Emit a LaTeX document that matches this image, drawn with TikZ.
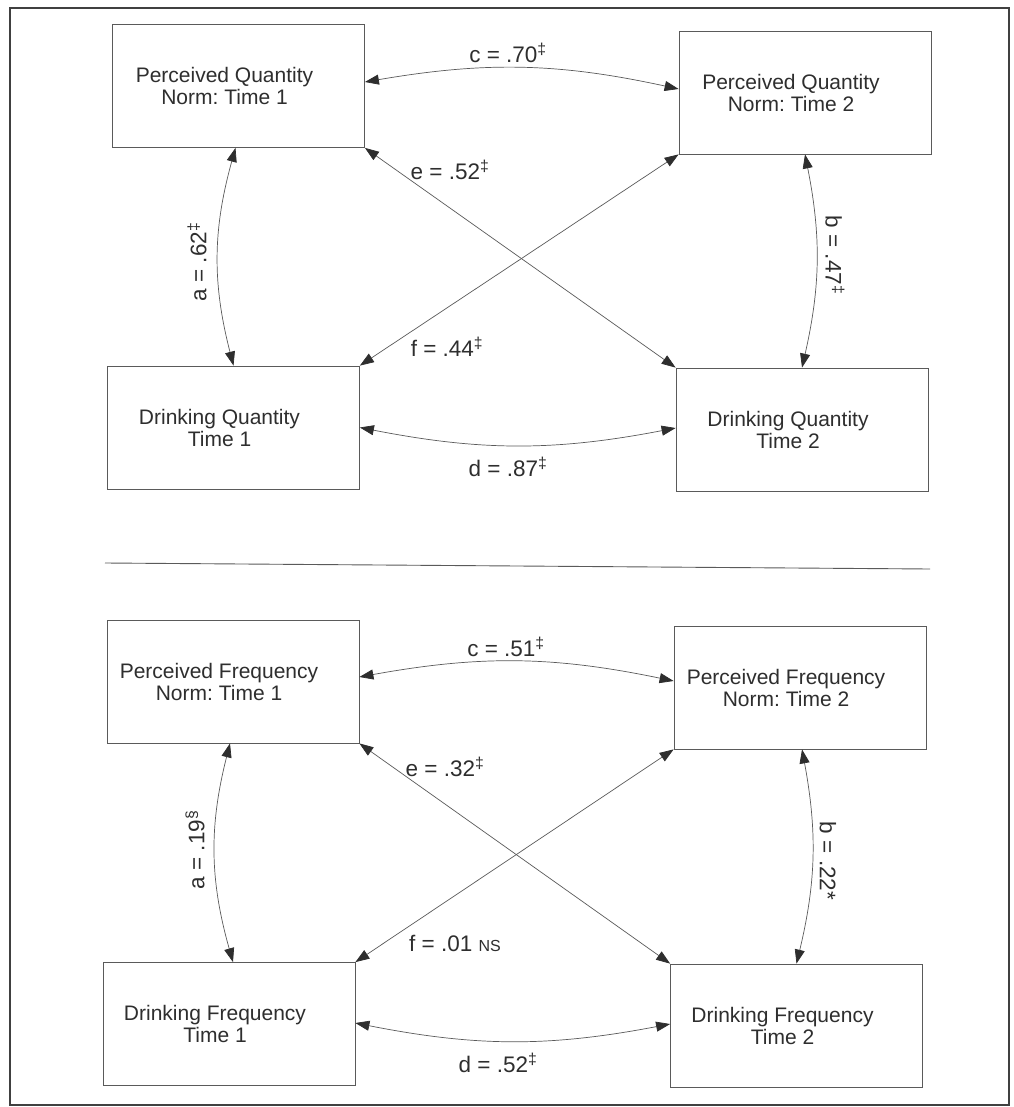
\documentclass[tikz,border=0pt]{standalone}
\usepackage{fontspec}
\setmainfont{Liberation Sans}
\usetikzlibrary{arrows.meta}
\definecolor{ink}{HTML}{2E2E2E}
\definecolor{edge}{HTML}{5A5A5A}
\definecolor{frame}{HTML}{404040}
\frenchspacing
\begin{document}
\begin{tikzpicture}[x=1pt,y=-1pt,
  box/.style={draw=edge, line width=0.8pt, minimum width=252pt, minimum height=123pt, inner sep=0pt},
  boxtext/.style={font=\fontsize{21}{22}\selectfont, align=center, text=ink, inner sep=0pt},
  conn/.style={draw=edge, line width=0.7pt, {Triangle[length=14pt,width=10pt,color=ink]}-{Triangle[length=14pt,width=10pt,color=ink]}},
  lab/.style={font=\fontsize{22.5}{24}\selectfont, text=ink, inner sep=0pt}
]
\useasboundingbox (0,0) rectangle (1013,1107);
\fill[white] (0,0) rectangle (1013,1107);
\coordinate (fA) at (10,8);
\coordinate (fB) at (1009,1105);
\draw[line width=1.6pt, draw=frame] (fA) rectangle (fB);

% separator
\coordinate (s1) at (105,563);
\coordinate (s2) at (930,569);
\draw[draw=edge, line width=0.9pt] (s1) -- (s2);

% ---------- top panel ----------
\node[box] (p1) at (238.5,86) {};
\node[box] (p2) at (805,92.5) {};
\node[box] (d1) at (233.5,427.5) {};
\node[box] (d2) at (802,429.5) {};
\node[boxtext] (tp1) at ([xshift=-14pt]p1.center) {Perceived Quantity\\Norm: Time 1};
\node[boxtext] (tp2) at ([xshift=-14pt]p2.center) {Perceived Quantity\\Norm: Time 2};
\node[boxtext] (td1) at ([xshift=-14pt]d1.center) {Drinking Quantity\\Time 1};
\node[boxtext] (td2) at ([xshift=-14pt]d2.center) {Drinking Quantity\\Time 2};

\draw[conn] ([yshift=4pt]p1.east) to[bend left=11] ([yshift=3.5pt]p2.west);
\draw[conn] (d1.east) to[bend right=11] ([yshift=1.5pt]d2.west);
\draw[conn] ([xshift=-3pt]p1.south) to[bend right=15] (d1.north);
\draw[conn] (p2.south) to[bend left=12] (d2.north);
\draw[conn] (p1.south east) -- (d2.north west);
\draw[conn] (p2.south west) -- (d1.north east);

\node[lab] (lc1) at (508,53) {c = .70\textsuperscript{‡}};
\node[lab] (le1) at (450,170) {e = .52\textsuperscript{‡}};
\node[lab] (lf1) at (447,347) {f = .44\textsuperscript{‡}};
\node[lab] (ld1) at (508,467) {d = .87\textsuperscript{‡}};
\node[lab, rotate=90] (la1) at (197,262) {a = .62\textsuperscript{‡}};
\node[lab, rotate=-90] (lb1) at (835,255) {b = .47\textsuperscript{‡}};

% ---------- bottom panel ----------
\node[box] (q1) at (233,681.5) {};
\node[box] (q2) at (800,687.5) {};
\node[box] (r1) at (229,1024) {};
\node[box] (r2) at (796.5,1025.5) {};
\node[boxtext] (tq1) at ([xshift=-14pt]q1.center) {Perceived Frequency\\Norm: Time 1};
\node[boxtext] (tq2) at ([xshift=-14pt]q2.center) {Perceived Frequency\\Norm: Time 2};
\node[boxtext] (tr1) at ([xshift=-14pt]r1.center) {Drinking Frequency\\Time 1};
\node[boxtext] (tr2) at ([xshift=-14pt]r2.center) {Drinking Frequency\\Time 2};

\draw[conn] ([yshift=4.5pt]q1.east) to[bend left=11] ([yshift=6.5pt]q2.west);
\draw[conn] ([yshift=1pt]r1.east) to[bend right=11] ([yshift=1.5pt]r2.west);
\draw[conn] ([xshift=-3pt]q1.south) to[bend right=15] ([xshift=4pt]r1.north);
\draw[conn] ([xshift=2pt]q2.south) to[bend left=12] (r2.north);
\draw[conn] (q1.south east) -- (r2.north west);
\draw[conn] (q2.south west) -- (r1.north east);

\node[lab] (lc2) at (506,647) {c = .51\textsuperscript{‡}};
\node[lab] (le2) at (445,767) {e = .32\textsuperscript{‡}};
\node[lab] (lf2) at (455,943) {f = .01 {\fontsize{16}{18}\selectfont NS}};
\node[lab] (ld2) at (498,1063) {d = .52\textsuperscript{‡}};
\node[lab, rotate=90] (la2) at (195,850) {a = .19\textsuperscript{§}};
\node[lab, rotate=-90] (lb2) at (828,861) {b = .22*};
\end{tikzpicture}
\end{document}
